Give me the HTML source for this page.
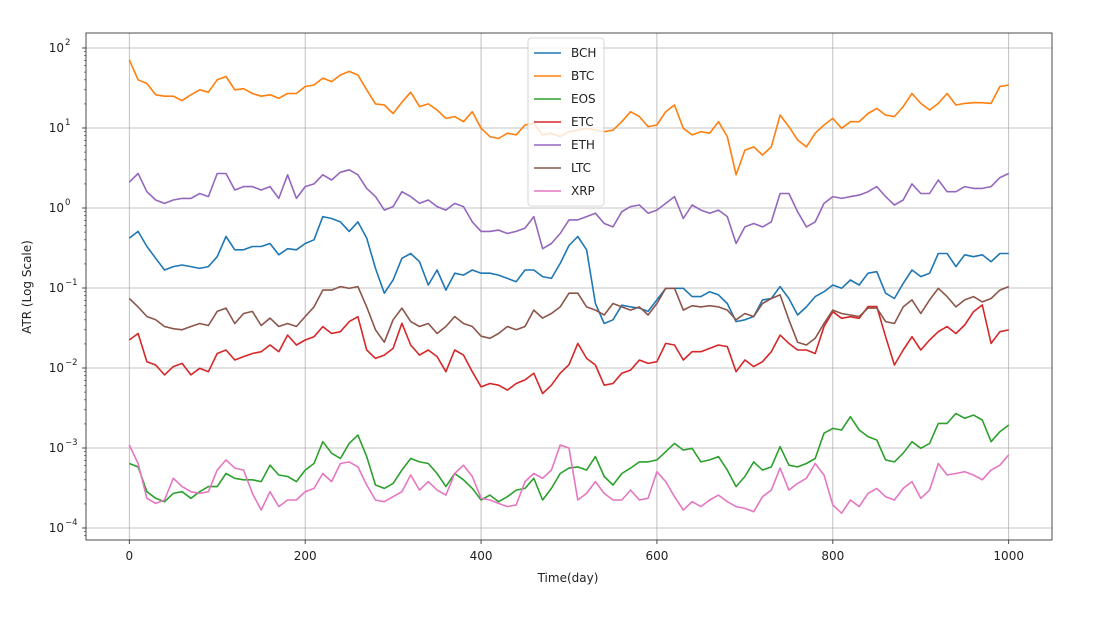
<!DOCTYPE html>
<html><head><meta charset="utf-8"><style>
body{margin:0;background:#fff;font-family:"Liberation Sans","DejaVu Sans",sans-serif}
svg text{font-family:"DejaVu Sans","Liberation Sans",sans-serif;fill:#222}
</style></head><body>
<svg id="chart" width="1101" height="612" xmlns="http://www.w3.org/2000/svg"></svg>
<script>
const days=[];for(let d=0;d<=1000;d+=10)days.push(d);
const seriesNames=["BCH","BTC","EOS","ETC","ETH","LTC","XRP"];
const colors=["#1f77b4","#ff7f0e","#2ca02c","#d62728","#9467bd","#8c564b","#e377c2"];
const bch=[0.42,0.51,0.33,0.235,0.168,0.185,0.194,0.185,0.176,0.185,0.246,0.44,0.3,0.3,0.33,0.33,0.36,0.26,0.31,0.3,0.36,0.4,0.78,0.74,0.67,0.51,0.67,0.42,0.176,0.086,0.126,0.235,0.27,0.213,0.109,0.168,0.094,0.153,0.145,0.168,0.153,0.153,0.145,0.132,0.12,0.168,0.168,0.139,0.132,0.203,0.34,0.44,0.3,0.064,0.036,0.04,0.061,0.058,0.056,0.051,0.071,0.099,0.099,0.099,0.078,0.078,0.09,0.082,0.064,0.038,0.04,0.044,0.071,0.074,0.104,0.074,0.046,0.058,0.078,0.09,0.109,0.099,0.126,0.109,0.153,0.16,0.086,0.074,0.114,0.168,0.139,0.153,0.27,0.27,0.185,0.26,0.246,0.26,0.213,0.27,0.27];
const btc=[71,40,36,26,25,25,22,26,30,28,40,44,30,31,27,25,26,23.5,27,27,33,34.5,42,38,46,51,46,30,20,19.4,15.2,21,28,18.5,20,16.8,13.2,13.9,12,16,9.9,7.8,7.4,8.6,8.2,10.9,11.4,8.2,8.6,7.8,9,9.4,9.9,9.4,9.0,9.4,12,16,13.9,10.4,10.9,16,19.4,9.9,8.2,9.0,8.6,12,7.8,2.6,5.3,5.8,4.6,5.8,14.5,10.4,7.1,5.8,8.6,10.9,13.2,9.9,12,12,15.2,17.6,14.5,13.9,18.5,27,20.3,16.8,20.3,27,19.4,20.3,20.7,20.7,20.3,33,34.5];
const eos=[0.00064,0.00058,0.000284,0.000235,0.000213,0.000271,0.000284,0.000235,0.000284,0.000329,0.000329,0.00048,0.000418,0.0004,0.0004,0.00038,0.00061,0.00046,0.00044,0.00038,0.00053,0.00064,0.0012,0.00086,0.00074,0.00114,0.00145,0.00078,0.000345,0.000313,0.000361,0.00053,0.00074,0.00067,0.00064,0.00048,0.000329,0.00048,0.0004,0.000313,0.000224,0.000258,0.000213,0.000246,0.000298,0.000313,0.000418,0.000224,0.000313,0.00048,0.00056,0.00058,0.00053,0.00078,0.00044,0.000345,0.00048,0.00056,0.00067,0.00067,0.00071,0.0009,0.00114,0.00094,0.00099,0.00067,0.00071,0.00078,0.00053,0.000329,0.00044,0.00067,0.00053,0.00058,0.00104,0.00061,0.00058,0.00064,0.00074,0.00153,0.00176,0.00168,0.00246,0.00168,0.00139,0.00126,0.00071,0.00067,0.00086,0.0012,0.00099,0.00114,0.00203,0.00203,0.00271,0.00235,0.00258,0.00224,0.0012,0.0016,0.00194];
const etc=[0.0224,0.027,0.012,0.0109,0.0082,0.0104,0.0114,0.0082,0.0099,0.009,0.0152,0.0168,0.0126,0.0139,0.0152,0.016,0.0194,0.016,0.0258,0.0194,0.0224,0.0246,0.0329,0.027,0.0284,0.038,0.0438,0.0168,0.0132,0.0145,0.0176,0.0362,0.0194,0.0145,0.0168,0.0139,0.009,0.0168,0.0145,0.009,0.0058,0.0064,0.0061,0.0053,0.0064,0.0071,0.0086,0.0048,0.0061,0.0086,0.011,0.0203,0.0132,0.0109,0.0061,0.0064,0.0086,0.0094,0.0126,0.0114,0.012,0.0203,0.0194,0.0126,0.016,0.016,0.0176,0.0194,0.0185,0.009,0.0126,0.0104,0.012,0.016,0.0258,0.0203,0.0168,0.0168,0.0152,0.0329,0.0506,0.0418,0.0438,0.0418,0.0585,0.0585,0.0246,0.0109,0.0168,0.0246,0.0168,0.0224,0.0284,0.0329,0.027,0.0345,0.0506,0.0613,0.0203,0.0284,0.0299];
const eth=[2.1,2.7,1.6,1.26,1.14,1.26,1.32,1.32,1.52,1.39,2.7,2.7,1.68,1.85,1.85,1.68,1.85,1.32,2.6,1.32,1.85,2.0,2.6,2.24,2.8,3.0,2.6,1.76,1.39,0.94,1.04,1.6,1.39,1.14,1.26,1.04,0.94,1.14,1.04,0.67,0.51,0.51,0.53,0.48,0.51,0.56,0.78,0.31,0.36,0.48,0.71,0.71,0.78,0.86,0.64,0.58,0.9,1.04,1.09,0.86,0.94,1.14,1.39,0.74,1.09,0.94,0.86,0.94,0.78,0.36,0.58,0.64,0.58,0.67,1.52,1.52,0.9,0.58,0.67,1.14,1.39,1.32,1.39,1.45,1.6,1.85,1.39,1.09,1.26,2.0,1.52,1.52,2.24,1.6,1.6,1.85,1.76,1.76,1.85,2.4,2.7];
const ltc=[0.074,0.058,0.044,0.04,0.033,0.031,0.03,0.033,0.036,0.034,0.051,0.056,0.036,0.048,0.051,0.034,0.042,0.033,0.036,0.033,0.044,0.058,0.094,0.094,0.104,0.099,0.104,0.058,0.03,0.021,0.04,0.056,0.038,0.033,0.036,0.027,0.033,0.044,0.036,0.033,0.025,0.0235,0.027,0.033,0.03,0.033,0.053,0.042,0.048,0.058,0.086,0.086,0.058,0.053,0.046,0.064,0.058,0.053,0.058,0.046,0.064,0.099,0.099,0.053,0.06,0.058,0.06,0.058,0.053,0.04,0.048,0.044,0.064,0.074,0.082,0.04,0.021,0.0194,0.0235,0.036,0.053,0.048,0.046,0.044,0.056,0.056,0.038,0.036,0.058,0.071,0.048,0.071,0.099,0.078,0.058,0.071,0.078,0.067,0.074,0.094,0.104];
const xrp=[0.00109,0.00064,0.000235,0.000203,0.000224,0.000418,0.000329,0.000284,0.000271,0.000284,0.00053,0.00071,0.00056,0.00053,0.000271,0.000168,0.000284,0.000185,0.000224,0.000224,0.000284,0.000313,0.00048,0.00038,0.00064,0.00067,0.00058,0.000345,0.000224,0.000213,0.000246,0.000284,0.00046,0.000298,0.00038,0.000298,0.000258,0.00048,0.00061,0.00044,0.000235,0.000224,0.000203,0.000185,0.000194,0.00038,0.00048,0.000418,0.00053,0.00109,0.001,0.000224,0.000271,0.00038,0.000271,0.000224,0.000224,0.000298,0.000224,0.000235,0.000506,0.00038,0.000246,0.000168,0.000213,0.000185,0.000224,0.000258,0.000213,0.000185,0.000176,0.00016,0.000246,0.000298,0.00056,0.000298,0.000361,0.000418,0.00064,0.00046,0.000194,0.000153,0.000224,0.000185,0.000271,0.000313,0.000246,0.000224,0.000313,0.00038,0.000235,0.000298,0.00064,0.00046,0.00048,0.000506,0.00046,0.0004,0.00053,0.00061,0.00082];
const xTicks=[0,200,400,600,800,1000];
const yExps=[2,1,0,-1,-2,-3,-4];

const NS="http://www.w3.org/2000/svg";
const svg=document.getElementById('chart');
const L=86,R=1052,T=33,B=540;
const xs=d=>129.3+(d/1000)*(1008.7-129.3);
const ys=v=>48+(2-Math.log10(v))*80;
function mk(t,a,p){const e=document.createElementNS(NS,t);for(const k in a)e.setAttribute(k,a[k]);(p||svg).appendChild(e);return e;}

xTicks.forEach(t=>{
  const g=mk('line',{x1:xs(t),x2:xs(t),y1:T,y2:B,stroke:'#b0b0b0','stroke-width':0.8});
  
  
  mk('line',{x1:xs(t),x2:xs(t),y1:B,y2:B+4,stroke:'#222','stroke-width':0.8});
  const tx=mk('text',{x:xs(t),y:B+20,'text-anchor':'middle','font-size':12});
  tx.textContent=t;
  
  
});
yExps.forEach(e=>{
  const y=ys(Math.pow(10,e));
  const g=mk('line',{x1:L,x2:R,y1:y,y2:y,stroke:'#b0b0b0','stroke-width':0.8});
  
  
  mk('line',{x1:L-4,x2:L,y1:y,y2:y,stroke:'#222','stroke-width':0.8});
  for(let m=2;m<10;m++){const yy=ys(m*Math.pow(10,e));if(yy>T&&yy<B)mk('line',{x1:L-2,x2:L,y1:yy,y2:yy,stroke:'#222','stroke-width':0.6});}
  const tx=mk('text',{x:L-22,y:y+4,'text-anchor':'end','font-size':12});
  tx.textContent='10';
  
  
  const sp=mk('text',{x:L-21,y:y-3,'text-anchor':'start','font-size':8.5});
  sp.textContent=e<0?'\u2212'+(-e):String(e);
});
for(let m=2;m<10;m++){const yy=ys(m*0.00001);if(yy>T&&yy<B)mk('line',{x1:L-2,x2:L,y1:yy,y2:yy,stroke:'#222','stroke-width':0.6});}
const clip=mk('clipPath',{id:'pc'});mk('rect',{x:L,y:T,width:R-L,height:B-T},clip);
const data=[bch,btc,eos,etc,eth,ltc,xrp];
data.forEach((arr,i)=>{
  const d=arr.map((v,j)=>(j?'L':'M')+xs(days[j]).toFixed(1)+','+ys(v).toFixed(1)).join('');
  const p=mk('path',{d:d,fill:'none',stroke:colors[i],'stroke-width':1.6,'clip-path':'url(#pc)','stroke-linejoin':'round'});
  
  
});
const fr=mk('rect',{x:L,y:T,width:R-L,height:B-T,fill:'none',stroke:'#222','stroke-width':0.8});


const lg=mk('g',{});


mk('rect',{x:528,y:38,width:76,height:168,rx:3,fill:'#fff','fill-opacity':0.8,stroke:'#ccc','stroke-width':0.8},lg);
seriesNames.forEach((n,i)=>{
  const y=53+i*23;
  mk('line',{x1:534,x2:561,y1:y,y2:y,stroke:colors[i],'stroke-width':1.5},lg);
  const t=mk('text',{x:571,y:y+4,'font-size':12},lg);
  t.textContent=n;
  
  
});
const xt=mk('text',{x:568,y:582,'text-anchor':'middle','font-size':12});
xt.textContent='Time(day)';


const yt=mk('text',{x:0,y:0,'text-anchor':'middle','font-size':12,transform:'translate(31,287) rotate(-90)'});
yt.textContent='ATR (Log Scale)';


</script>
</body></html>
